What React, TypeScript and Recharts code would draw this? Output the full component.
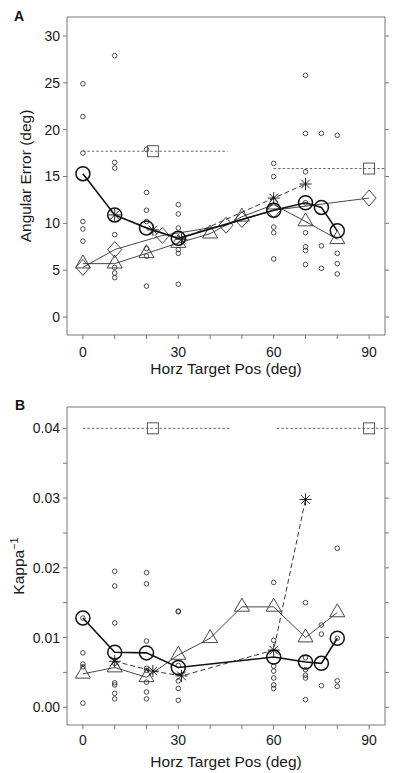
import { ScatterChart, Scatter, XAxis, YAxis } from 'recharts';

const FONT = '"Liberation Sans", Arial, Helvetica, sans-serif';

// shared axis ticks
const xTicks = [0, 10, 20, 30, 40, 50, 60, 70, 80, 90];
const xLabelTicks = [0, 30, 60, 90];
const aYTicks = [0, 5, 10, 15, 20, 25, 30];
const bYTicks = [0, 0.005, 0.01, 0.015, 0.02, 0.025, 0.03, 0.035, 0.04];

// ---- panel A : angular error (deg)
const aCircleX = [0, 10, 20, 30, 60, 70, 75, 80];
const aCircleY = [15.3, 10.9, 9.5, 8.4, 11.4, 12.2, 11.7, 9.2];
const aTriangleX = [0, 10, 20, 30, 40, 50, 60, 70, 80];
const aTriangleY = [5.7, 5.7, 6.8, 7.9, 8.9, 10.7, 12.0, 10.2, 8.3];
const aDiamondX = [0, 10, 25, 45, 50, 60, 90];
const aDiamondY = [5.3, 7.2, 8.7, 9.8, 10.4, 11.4, 12.7];
const aStarX = [10, 22, 31, 60, 70];
const aStarY = [10.9, 9.3, 8.3, 12.7, 14.2];
const aRefLeftX = [0, 45.5];
const aRefLeftY = 17.7;
const aRefLeftMark = 22;
const aRefRightX = [60, 95];
const aRefRightY = 15.85;
const aRefRightMark = 90;
const aDotX = [
  0, 0, 0, 0, 0, 0,
  10, 10, 10, 10, 10, 10, 10,
  20, 20, 20, 20, 20, 20, 20,
  30, 30, 30, 30, 30, 30,
  60, 60, 60, 60, 60,
  70, 70, 70, 70, 70, 70, 70, 70,
  75, 75, 75,
  80, 80, 80, 80,
];
const aDotY = [
  24.9, 21.4, 17.5, 10.2, 9.4, 8.1,
  27.9, 16.5, 15.9, 8.8, 5.3, 4.7, 4.2,
  17.9, 13.3, 11.4, 10.2, 7.3, 6.5, 3.3,
  12.0, 11.0, 9.5, 7.2, 6.8, 3.5,
  16.4, 15.0, 9.6, 9.0, 6.2,
  25.8, 19.6, 15.5, 12.2, 9.0, 7.5, 7.1, 5.6,
  19.6, 7.6, 5.2,
  19.4, 6.8, 5.7, 4.6,
];

// ---- panel B : kappa^-1
const bCircleX = [0, 10, 20, 30, 60, 70, 75, 80];
const bCircleY = [0.0128, 0.0079, 0.0078, 0.0057, 0.0072, 0.0065, 0.0063, 0.0099];
const bTriangleX = [0, 10, 20, 30, 40, 50, 60, 70, 80];
const bTriangleY = [0.0048, 0.0057, 0.0043, 0.0075, 0.0099, 0.0144, 0.0144, 0.01, 0.0136];
const bStarX = [10, 22, 31, 60, 70];
const bStarY = [0.0066, 0.0052, 0.0045, 0.0082, 0.0298];
const bRefLeftX = [0, 46];
const bRefLeftY = 0.04;
const bRefLeftMark = 22;
const bRefRightX = [61, 95];
const bRefRightY = 0.04;
const bRefRightMark = 90;
const bDotX = [
  0, 0, 0, 0, 0,
  10, 10, 10, 10, 10, 10, 10, 10,
  20, 20, 20, 20, 20, 20, 20, 20,
  30, 30, 30, 30, 30, 30,
  60, 60, 60, 60, 60, 60, 60,
  70, 70, 70, 70, 70, 70,
  75, 75, 75,
  80, 80, 80, 80,
];
const bDotY = [
  0.0128, 0.0078, 0.0062, 0.0058, 0.0006,
  0.0195, 0.0174, 0.0121, 0.0063, 0.0035, 0.0032, 0.002, 0.0012,
  0.0193, 0.0177, 0.0095, 0.0056, 0.0053, 0.0036, 0.0022, 0.0012,
  0.0138, 0.0137, 0.006, 0.0038, 0.0027, 0.001,
  0.0179, 0.0096, 0.0059, 0.0052, 0.0042, 0.0032, 0.0027,
  0.015, 0.0071, 0.0054, 0.0046, 0.0042, 0.0011,
  0.0118, 0.0105, 0.0031,
  0.0228, 0.0099, 0.0038, 0.003,
];

const zip = (xs: number[], ys: number[]) => xs.map((x, i) => ({ x, y: ys[i] }));
const flat = (xs: number[], y: number) => xs.map((x) => ({ x, y }));

// marker shapes (R pch 0, 1, 2, 5, 8)
const BigCircle = (p: any) => (
  <circle cx={p.cx} cy={p.cy} r={7} fill="none" stroke="#111" strokeWidth={1.5} />
);
const SmallCircle = (p: any) => (
  <circle cx={p.cx} cy={p.cy} r={2.3} fill="none" stroke="#222" strokeWidth={0.8} />
);
const Triangle = (p: any) => {
  const w = 7.5;
  const r = w / (Math.sqrt(3) / 2);
  return (
    <polygon
      points={`${p.cx},${p.cy - r} ${p.cx + w},${p.cy + r / 2} ${p.cx - w},${p.cy + r / 2}`}
      fill="none"
      stroke="#333"
      strokeWidth={0.9}
    />
  );
};
const Diamond = (p: any) => (
  <polygon
    points={`${p.cx},${p.cy - 8} ${p.cx + 7},${p.cy} ${p.cx},${p.cy + 8} ${p.cx - 7},${p.cy}`}
    fill="none"
    stroke="#333"
    strokeWidth={0.9}
  />
);
const Square = (p: any) => (
  <rect x={p.cx - 5.5} y={p.cy - 5.5} width={11} height={11} fill="none" stroke="#444" strokeWidth={0.9} />
);
const Star = (p: any) => {
  const r = 6;
  const d = r * 0.72;
  return (
    <g stroke="#111" strokeWidth={0.9}>
      <line x1={p.cx - r} y1={p.cy} x2={p.cx + r} y2={p.cy} />
      <line x1={p.cx} y1={p.cy - r} x2={p.cx} y2={p.cy + r} />
      <line x1={p.cx - d} y1={p.cy - d} x2={p.cx + d} y2={p.cy + d} />
      <line x1={p.cx - d} y1={p.cy + d} x2={p.cx + d} y2={p.cy - d} />
    </g>
  );
};
const NoMark = () => <g />;

const axisGray = '#777';
const tickStyle = { fill: '#1a1a1a', fontSize: 14, fontFamily: FONT };
const hidden = () => '';

type PanelProps = {
  height: number;
  xAxisHeight: number;
  xTickMargin: number;
  yDomain: [number, number];
  yTicks: number[];
  yFormat: (v: number) => string;
  dots: { x: number; y: number }[];
  circles: { x: number; y: number }[];
  triangles: { x: number; y: number }[];
  diamonds?: { x: number; y: number }[];
  stars: { x: number; y: number }[];
  refLeft: { x: number; y: number }[];
  refLeftMark: { x: number; y: number }[];
  refRight: { x: number; y: number }[];
  refRightMark: { x: number; y: number }[];
};

const Panel = (p: PanelProps) => (
  <ScatterChart width={400} height={p.height} margin={{ top: 13, right: 11, bottom: 0, left: 0 }}>
    <XAxis
      xAxisId={0}
      dataKey="x"
      type="number"
      domain={[-5, 95]}
      ticks={xTicks}
      interval={0}
      height={p.xAxisHeight}
      tickSize={4}
      tickMargin={p.xTickMargin}
      axisLine={{ stroke: axisGray }}
      tickLine={{ stroke: axisGray }}
      tick={tickStyle}
      tickFormatter={(v: number) => (xLabelTicks.includes(v) ? String(v) : '')}
      allowDataOverflow
    />
    <XAxis
      xAxisId="top"
      orientation="top"
      type="number"
      domain={[-5, 95]}
      ticks={xTicks}
      interval={0}
      height={4}
      tickSize={4}
      axisLine={{ stroke: axisGray }}
      tickLine={{ stroke: axisGray }}
      tickFormatter={hidden}
      allowDataOverflow
    />
    <YAxis
      yAxisId={0}
      dataKey="y"
      type="number"
      domain={p.yDomain}
      ticks={p.yTicks}
      interval={0}
      width={67}
      tickSize={4}
      tickMargin={3}
      axisLine={{ stroke: axisGray }}
      tickLine={{ stroke: axisGray }}
      tick={tickStyle}
      tickFormatter={p.yFormat}
      allowDataOverflow
    />
    <YAxis
      yAxisId="right"
      orientation="right"
      type="number"
      domain={p.yDomain}
      ticks={p.yTicks}
      interval={0}
      width={4}
      tickSize={4}
      axisLine={{ stroke: axisGray }}
      tickLine={{ stroke: axisGray }}
      tickFormatter={hidden}
      allowDataOverflow
    />
    <Scatter data={p.dots} shape={SmallCircle} isAnimationActive={false} />
    <Scatter
      data={p.refLeft}
      shape={NoMark}
      line={{ stroke: '#555', strokeWidth: 0.9, strokeDasharray: '2.5 2' }}
      lineType="joint"
      isAnimationActive={false}
    />
    <Scatter data={p.refLeftMark} shape={Square} isAnimationActive={false} />
    <Scatter
      data={p.refRight}
      shape={NoMark}
      line={{ stroke: '#555', strokeWidth: 0.9, strokeDasharray: '2.5 2' }}
      lineType="joint"
      isAnimationActive={false}
    />
    <Scatter data={p.refRightMark} shape={Square} isAnimationActive={false} />
    {p.diamonds && (
      <Scatter
        data={p.diamonds}
        shape={Diamond}
        line={{ stroke: '#333', strokeWidth: 0.9 }}
        lineType="joint"
        isAnimationActive={false}
      />
    )}
    <Scatter
      data={p.triangles}
      shape={Triangle}
      line={{ stroke: '#333', strokeWidth: 0.9 }}
      lineType="joint"
      isAnimationActive={false}
    />
    <Scatter
      data={p.stars}
      shape={Star}
      line={{ stroke: '#222', strokeWidth: 0.9, strokeDasharray: '5 3' }}
      lineType="joint"
      isAnimationActive={false}
    />
    <Scatter
      data={p.circles}
      shape={BigCircle}
      line={{ stroke: '#111', strokeWidth: 1.6 }}
      lineType="joint"
      isAnimationActive={false}
    />
  </ScatterChart>
);

const bFormat = (v: number) =>
  Math.abs(v * 100 - Math.round(v * 100)) < 1e-6 ? v.toFixed(2) : '';

export default function App() {
  return (
    <div
      style={{
        position: 'absolute',
        left: 0,
        top: 0,
        width: 400,
        height: 773,
        background: '#fff',
        fontFamily: FONT,
      }}
    >
      <div style={{ position: 'absolute', left: 0, top: 0 }}>
        <Panel
          height={390}
          xAxisHeight={55}
          xTickMargin={8}
          yDomain={[-1.92, 32.03]}
          yTicks={aYTicks}
          yFormat={(v: number) => String(v)}
          dots={zip(aDotX, aDotY)}
          circles={zip(aCircleX, aCircleY)}
          triangles={zip(aTriangleX, aTriangleY)}
          diamonds={zip(aDiamondX, aDiamondY)}
          stars={zip(aStarX, aStarY)}
          refLeft={flat(aRefLeftX, aRefLeftY)}
          refLeftMark={flat([aRefLeftMark], aRefLeftY)}
          refRight={flat(aRefRightX, aRefRightY)}
          refRightMark={flat([aRefRightMark], aRefRightY)}
        />
      </div>
      <div style={{ position: 'absolute', left: 0, top: 390 }}>
        <Panel
          height={383}
          xAxisHeight={48}
          xTickMargin={6}
          yDomain={[-0.00254, 0.04306]}
          yTicks={bYTicks}
          yFormat={bFormat}
          dots={zip(bDotX, bDotY)}
          circles={zip(bCircleX, bCircleY)}
          triangles={zip(bTriangleX, bTriangleY)}
          stars={zip(bStarX, bStarY)}
          refLeft={flat(bRefLeftX, bRefLeftY)}
          refLeftMark={flat([bRefLeftMark], bRefLeftY)}
          refRight={flat(bRefRightX, bRefRightY)}
          refRightMark={flat([bRefRightMark], bRefRightY)}
        />
      </div>
      <svg
        width={400}
        height={773}
        style={{ position: 'absolute', left: 0, top: 0, pointerEvents: 'none' }}
        fontFamily={FONT}
      >
        <text x={14} y={21} fontSize={14} fontWeight="bold" fill="#111">A</text>
        <text x={15} y={409.5} fontSize={14} fontWeight="bold" fill="#111">B</text>
        <text x={226} y={373.5} fontSize={15.5} textAnchor="middle" fill="#1a1a1a">
          Horz Target Pos (deg)
        </text>
        <text x={226} y={766.5} fontSize={15.5} textAnchor="middle" fill="#1a1a1a">
          Horz Target Pos (deg)
        </text>
        <text
          transform="translate(31,176) rotate(-90)"
          fontSize={15.5}
          textAnchor="middle"
          fill="#1a1a1a"
        >
          Angular Error (deg)
        </text>
        <text
          transform="translate(24,566) rotate(-90)"
          fontSize={15.5}
          textAnchor="middle"
          fill="#1a1a1a"
        >
          Kappa
          <tspan fontSize={11} dy={-6}>−1</tspan>
        </text>
      </svg>
    </div>
  );
}
